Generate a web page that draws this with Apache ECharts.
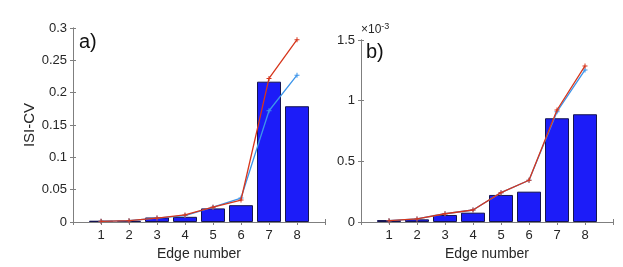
<!DOCTYPE html>
<html><head><meta charset="utf-8">
<script src="https://cdn.jsdelivr.net/npm/echarts@6/dist/echarts.min.js"></script>
<style>html,body{margin:0;padding:0;background:#fff}#c{width:623px;height:267px}</style>
</head><body><div id="c"></div>
<script>
const categories = [1, 2, 3, 4, 5, 6, 7, 8];
// Panel a) ISI-CV
const barsA = [0.002, 0.002, 0.007, 0.008, 0.021, 0.026, 0.217, 0.179];
const redA  = [0.001, 0.002, 0.006, 0.011, 0.023, 0.034, 0.222, 0.282];
const blueA = [0.001, 0.002, 0.006, 0.010, 0.023, 0.037, 0.172, 0.227];
// Panel b) values in units of 1e-3
const barsB = [0.016, 0.022, 0.058, 0.077, 0.223, 0.250, 0.855, 0.888];
const redB  = [0.011, 0.025, 0.068, 0.099, 0.242, 0.344, 0.923, 1.286];
const blueB = [0.011, 0.025, 0.068, 0.099, 0.242, 0.344, 0.909, 1.253];
const yTicksA = [0, 0.05, 0.1, 0.15, 0.2, 0.25, 0.3];
const yTicksB = [0, 0.5, 1, 1.5];

const pair = arr => categories.map((c, i) => [c, arr[i]]);
const axisGray = '#7f7f7f';
const txt = '#262626';
const font = 'Liberation Sans, Arial, sans-serif';
const plus = 'path://M4,0L6,0L6,4L10,4L10,6L6,6L6,10L4,10L4,6L0,6L0,4L4,4Z';

function xAxes(gi) {
  return [{
    type: 'value', gridIndex: gi, min: 0, max: 9, interval: 1, position: 'bottom',
    axisLine: {show: true, lineStyle: {color: axisGray}},
    axisTick: {show: true, inside: true, length: 3, lineStyle: {color: axisGray}},
    splitLine: {show: false},
    axisLabel: {color: txt, fontSize: 13, fontFamily: font, margin: 7,
      formatter: v => (v >= 1 && v <= 8) ? String(v) : ''},
    name: 'Edge number', nameLocation: 'middle', nameGap: 25,
    nameTextStyle: {color: txt, fontSize: 14, fontFamily: font}
  }, {
    type: 'value', gridIndex: gi, min: 0, max: 9, interval: 1, position: 'top',
    axisLine: {show: true, lineStyle: {color: axisGray}},
    axisTick: {show: true, inside: true, length: 3, lineStyle: {color: axisGray}},
    splitLine: {show: false}, axisLabel: {show: false}
  }];
}
function yAxes(gi, max, interval, extra) {
  return [Object.assign({
    type: 'value', gridIndex: gi, min: 0, max: max, interval: interval, position: 'left',
    axisLine: {show: true, lineStyle: {color: axisGray}},
    axisTick: {show: true, inside: true, length: 3, lineStyle: {color: axisGray}},
    splitLine: {show: false},
    axisLabel: {color: txt, fontSize: 13, fontFamily: font, margin: 6}
  }, extra || {}), {
    type: 'value', gridIndex: gi, min: 0, max: max, interval: interval, position: 'right',
    axisLine: {show: true, lineStyle: {color: axisGray}},
    axisTick: {show: true, inside: true, length: 3, lineStyle: {color: axisGray}},
    splitLine: {show: false}, axisLabel: {show: false}
  }];
}

const barStyle = {color: '#1c1cf8', borderColor: '#141450', borderWidth: 1};
function lineS(xi, yi, data, color, z) {
  return {type: 'line', xAxisIndex: xi, yAxisIndex: yi, data: pair(data), z: z,
    symbol: plus, symbolSize: 5, showSymbol: true,
    lineStyle: {color: color, width: 1.3}, itemStyle: {color: color}, animation: false};
}

const chart = echarts.init(document.getElementById('c'));
chart.setOption({
  animation: false,
  grid: [
    {left: 73, top: 28, width: 252, height: 194},
    {left: 361, top: 40, width: 252, height: 182}
  ],
  xAxis: [...xAxes(0), ...xAxes(1)],
  yAxis: [
    ...yAxes(0, yTicksA[yTicksA.length - 1], yTicksA[1], {
      name: 'ISI-CV', nameLocation: 'middle', nameGap: 36, nameRotate: 90,
      nameTextStyle: {color: txt, fontSize: 15, fontFamily: font}
    }),
    ...yAxes(1, yTicksB[yTicksB.length - 1], yTicksB[1], {
      name: '{a|×10}{b|-3}', nameLocation: 'end', nameGap: 2,
      nameTextStyle: {align: 'left', padding: [0, 0, 0, 0],
        rich: {a: {fontSize: 12, color: txt, fontFamily: font},
               b: {fontSize: 9, color: txt, fontFamily: font, verticalAlign: 'top', padding: [0, 0, 7, 0]}}}
    })
  ],
  series: [
    {type: 'bar', xAxisIndex: 0, yAxisIndex: 0, data: pair(barsA), barWidth: 24, itemStyle: barStyle, z: 2},
    lineS(0, 0, blueA, '#3d95ea', 3),
    lineS(0, 0, redA, '#d6361c', 4),
    {type: 'bar', xAxisIndex: 2, yAxisIndex: 2, data: pair(barsB), barWidth: 24, itemStyle: barStyle, z: 2},
    lineS(2, 2, blueB, '#3d95ea', 3),
    lineS(2, 2, redB, '#d6361c', 4)
  ],
  graphic: [
    {type: 'text', left: 79, top: 32, style: {text: 'a)', fontSize: 20, fill: '#111', fontFamily: font}},
    {type: 'text', left: 366, top: 42, style: {text: 'b)', fontSize: 20, fill: '#111', fontFamily: font}}
  ]
});
</script></body></html>
